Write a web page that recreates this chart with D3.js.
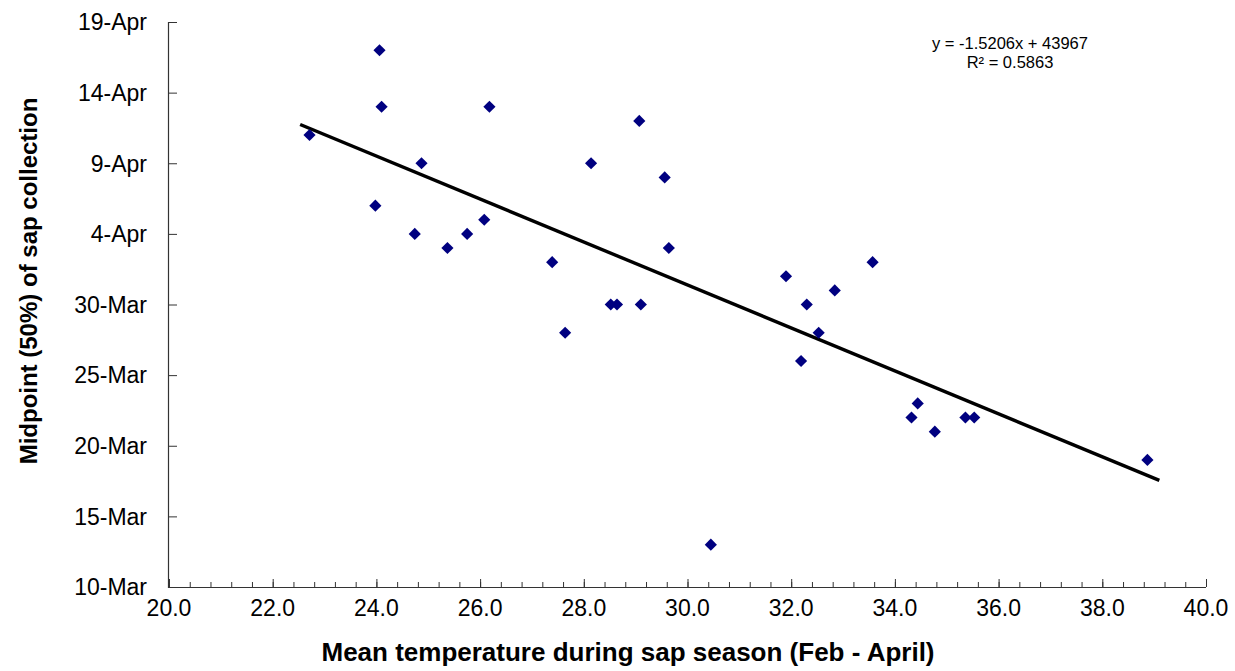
<!DOCTYPE html>
<html>
<head>
<meta charset="utf-8">
<script src="https://cdn.jsdelivr.net/npm/d3@7"></script>
<style>
  html, body { margin: 0; padding: 0; background: #ffffff; }
  svg { display: block; font-family: "Liberation Sans", Arial, Helvetica, sans-serif; }
</style>
</head>
<body>
<svg id="chart" width="1235" height="671"></svg>
<script>
// ---- Data ----
const temperatures = [22.71, 24.06, 24.10, 26.18, 24.87, 23.98, 24.74, 25.37, 25.75, 26.08,
                      29.07, 28.14, 29.56, 29.64, 27.39, 28.52, 28.64, 29.10, 27.64, 31.90,
                      33.57, 32.84, 32.30, 32.53, 32.19, 34.44, 34.32, 34.77, 35.36, 35.53,
                      30.45, 38.87];
const midpointDates = ["2020-04-11","2020-04-17","2020-04-13","2020-04-13","2020-04-09","2020-04-06",
                       "2020-04-04","2020-04-03","2020-04-04","2020-04-05","2020-04-12","2020-04-09",
                       "2020-04-08","2020-04-03","2020-04-02","2020-03-30","2020-03-30","2020-03-30",
                       "2020-03-28","2020-04-01","2020-04-02","2020-03-31","2020-03-30","2020-03-28",
                       "2020-03-26","2020-03-23","2020-03-22","2020-03-21","2020-03-22","2020-03-22",
                       "2020-03-13","2020-03-19"];
const xTickValues = [20, 22, 24, 26, 28, 30, 32, 34, 36, 38, 40];
const yTickDates = ["2020-03-10","2020-03-15","2020-03-20","2020-03-25","2020-03-30",
                    "2020-04-04","2020-04-09","2020-04-14","2020-04-19"];
const yTickLabels = ["10-Mar","15-Mar","20-Mar","25-Mar","30-Mar","4-Apr","9-Apr","14-Apr","19-Apr"];
// Trendline as printed on the chart (y in Excel date serials)
const trendSlope = -1.5206;
const trendIntercept = 43967;
const trendXRange = [22.53, 39.10];
const equationLines = ["y = -1.5206x + 43967", "R² = 0.5863"];
const xTitle = "Mean temperature during sap season (Feb - April)";
const yTitle = "Midpoint (50%) of sap collection";

// ---- Layout ----
const plot = { left: 169, right: 1206, top: 22, bottom: 587 };
const svg = d3.select("#chart");
const parse = d3.utcParse("%Y-%m-%d");
const serialToDate = s => new Date((s - 25569) * 864e5);

const x = d3.scaleLinear().domain([20, 40]).range([plot.left, plot.right]);
const y = d3.scaleUtc()
  .domain([parse(yTickDates[0]), parse(yTickDates[yTickDates.length - 1])])
  .range([plot.bottom, plot.top]);

const axisColor = "#333333";

// X axis (ticks inward)
const xMinor = d3.range(20, 40.0001, 0.4);
const xAxis = svg.append("g").attr("transform", `translate(0,${plot.bottom})`)
  .call(d3.axisTop(x).tickValues(xMinor).tickSize(5).tickFormat(""));
xAxis.select(".domain").remove();
xAxis.selectAll(".tick line").attr("stroke", axisColor);

const xMajor = svg.append("g").attr("transform", `translate(0,${plot.bottom})`)
  .call(d3.axisTop(x).tickValues(xTickValues).tickSize(8).tickFormat(""));
xMajor.select(".domain").remove();
xMajor.selectAll(".tick line").attr("stroke", axisColor);

svg.append("g").selectAll("text").data(xTickValues).join("text")
  .attr("x", d => x(d)).attr("y", plot.bottom + 29)
  .attr("text-anchor", "middle").attr("font-size", 23).attr("fill", "#000")
  .text(d => d3.format(".1f")(d));

svg.append("line")
  .attr("x1", plot.left).attr("x2", plot.right)
  .attr("y1", plot.bottom + 0.5).attr("y2", plot.bottom + 0.5)
  .attr("stroke", axisColor).attr("stroke-width", 1.2);

// Y axis (ticks inward)
const yAxis = svg.append("g").attr("transform", `translate(${plot.left},0)`)
  .call(d3.axisRight(y).tickValues(yTickDates.map(parse)).tickSize(8).tickFormat(""));
yAxis.select(".domain").remove();
yAxis.selectAll(".tick line").attr("stroke", axisColor);

svg.append("g").selectAll("text").data(yTickDates).join("text")
  .attr("x", plot.left - 22).attr("y", d => y(parse(d)))
  .attr("dy", "0.36em")
  .attr("text-anchor", "end").attr("font-size", 23).attr("fill", "#000")
  .text((d, i) => yTickLabels[i]);

svg.append("line")
  .attr("x1", plot.left - 0.5).attr("x2", plot.left - 0.5)
  .attr("y1", plot.top).attr("y2", plot.bottom + 1)
  .attr("stroke", axisColor).attr("stroke-width", 1.2);

// Trendline
const trendPts = trendXRange.map(t => [x(t), y(serialToDate(trendSlope * t + trendIntercept))]);
svg.append("path")
  .attr("d", d3.line()(trendPts))
  .attr("stroke", "#000").attr("stroke-width", 3.4).attr("fill", "none");

// Points (diamonds)
const diamond = d3.symbol().type(d3.symbolSquare).size(74);
svg.append("g").selectAll("path").data(temperatures).join("path")
  .attr("d", diamond)
  .attr("transform", (d, i) => `translate(${x(d)},${y(parse(midpointDates[i]))}) rotate(45)`)
  .attr("fill", "#000080");

// Equation
svg.append("g").selectAll("text").data(equationLines).join("text")
  .attr("x", 1010).attr("y", (d, i) => 49 + i * 19)
  .attr("text-anchor", "middle").attr("font-size", 16.5).attr("fill", "#000")
  .text(d => d);

// Axis titles
svg.append("text")
  .attr("x", 628).attr("y", 661)
  .attr("text-anchor", "middle").attr("font-size", 26).attr("font-weight", "bold")
  .text(xTitle);

svg.append("text")
  .attr("transform", `translate(37,281) rotate(-90)`)
  .attr("text-anchor", "middle").attr("font-size", 24).attr("font-weight", "bold")
  .text(yTitle);
</script>
</body>
</html>
